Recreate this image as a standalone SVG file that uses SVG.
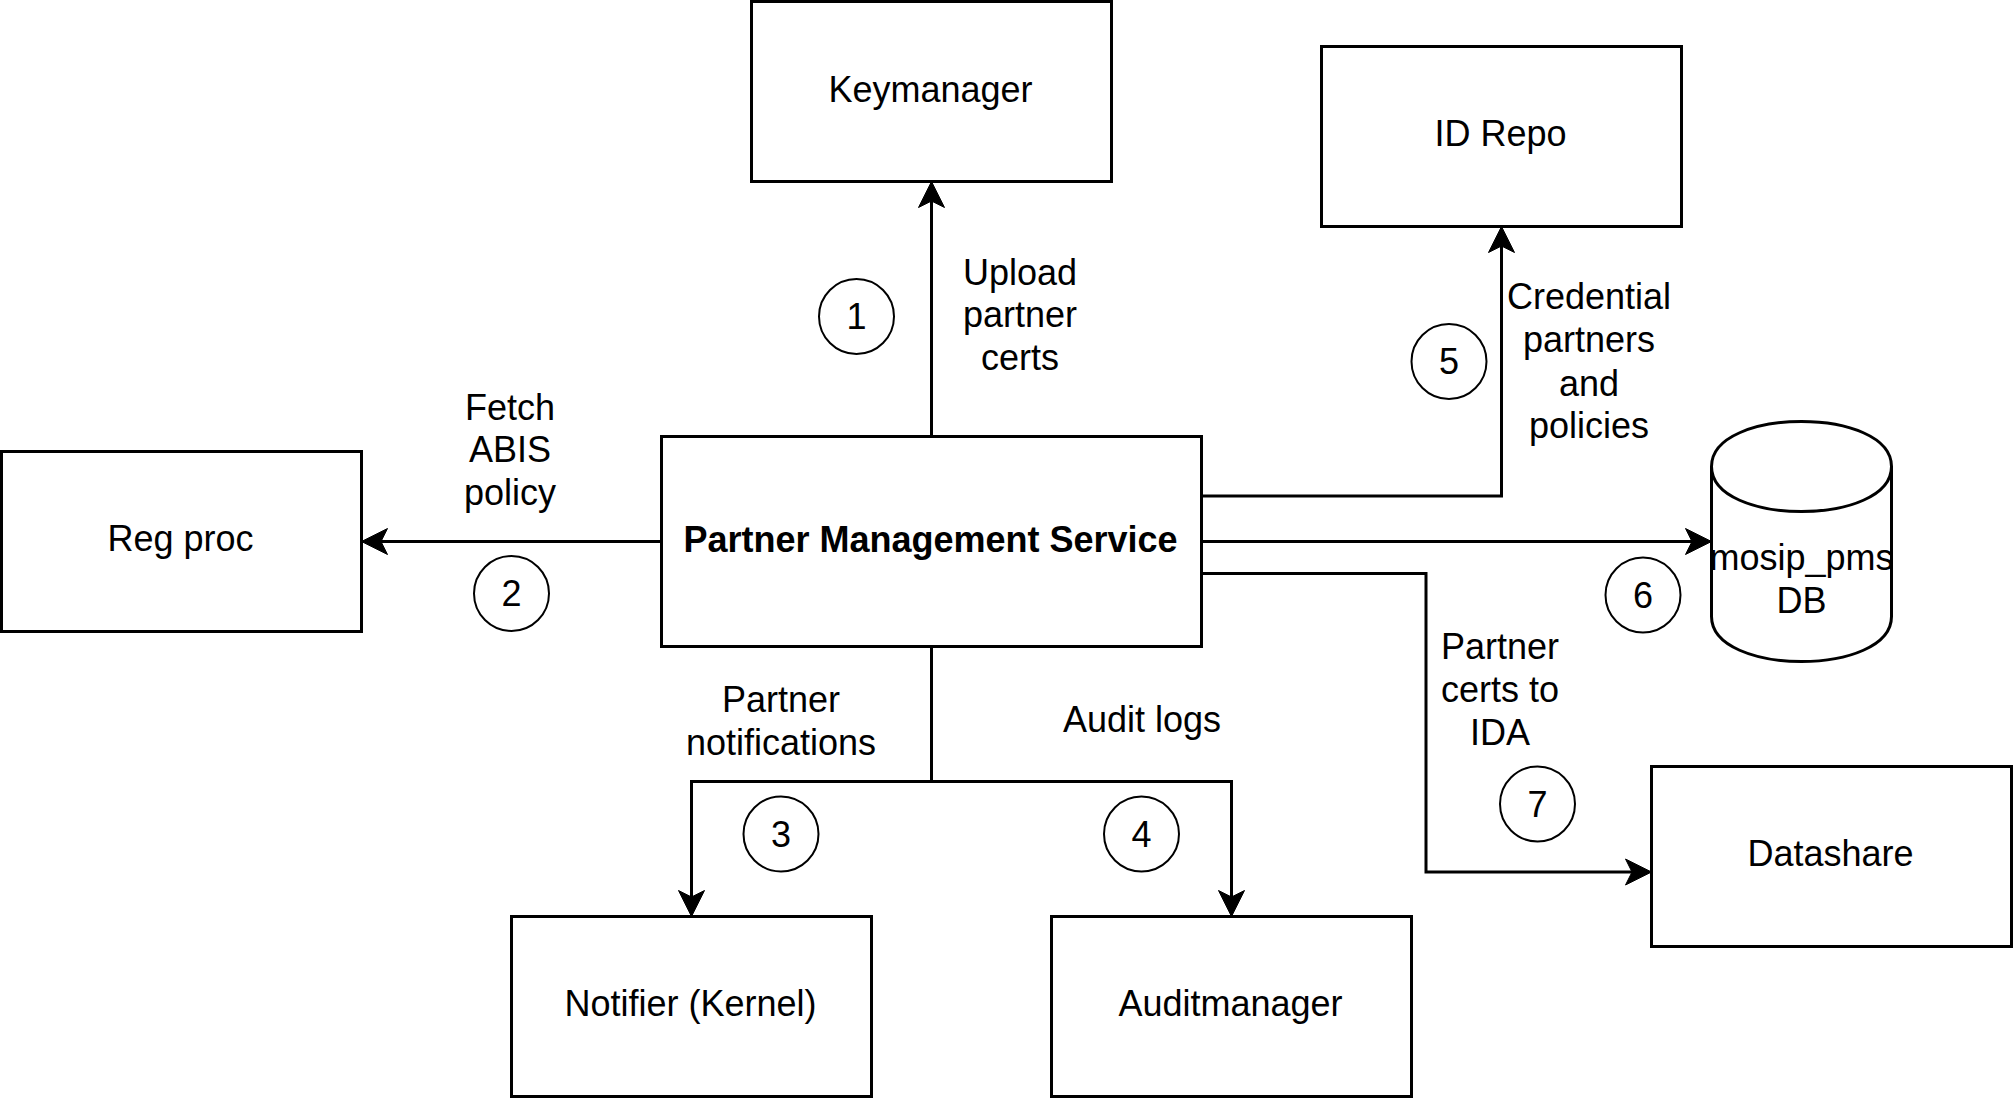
<svg xmlns="http://www.w3.org/2000/svg" width="2013" height="1098" viewBox="0 0 2013 1098">
<style>
  .box { fill: #ffffff; stroke: #000000; stroke-width: 3; }
  .num { fill: #ffffff; stroke: #000000; stroke-width: 2; }
  .edge { fill: none; stroke: #000000; stroke-width: 3; }
  text { font-family: "Liberation Sans", Arial, Helvetica, sans-serif; font-size: 36px; fill: #000000; text-anchor: middle; }
  .bold { font-weight: bold; }
</style>
<defs>
  <marker id="arrow" markerUnits="userSpaceOnUse" markerWidth="27" markerHeight="27" viewBox="0 0 27 27" refX="6.5" refY="13.5" orient="auto" overflow="visible">
    <path d="M26,13.5 L0,0.5 L6.5,13.5 L0,26.5 Z" fill="#000000" stroke="#000000" stroke-width="1"/>
  </marker>
</defs>
<rect width="2013" height="1098" fill="#ffffff"/>

<g id="connectors">
  <path class="edge" d="M931.5,436.5 L931.5,201" marker-end="url(#arrow)"/>
  <path class="edge" d="M661.5,541.5 L381,541.5" marker-end="url(#arrow)"/>
  <path class="edge" d="M1201.5,496 L1501.5,496 L1501.5,246" marker-end="url(#arrow)"/>
  <path class="edge" d="M1201.5,541.5 L1692,541.5" marker-end="url(#arrow)"/>
  <path class="edge" d="M1201.5,573.5 L1426,573.5 L1426,872 L1632,872" marker-end="url(#arrow)"/>
  <path class="edge" d="M931.5,646.5 L931.5,781.5 L691.5,781.5 L691.5,897" marker-end="url(#arrow)"/>
  <path class="edge" d="M931.5,781.5 L1231.5,781.5 L1231.5,897" marker-end="url(#arrow)"/>
</g>

<g id="labels">
  <text x="1020" y="284.5">Upload</text>
  <text x="1020" y="327">partner</text>
  <text x="1020" y="369.5">certs</text>
  <text x="510" y="419.5">Fetch</text>
  <text x="510" y="462">ABIS</text>
  <text x="510" y="504.5">policy</text>
  <text x="1589" y="309">Credential</text>
  <text x="1589" y="352">partners</text>
  <text x="1589" y="395.5">and</text>
  <text x="1589" y="438">policies</text>
  <text x="781" y="712">Partner</text>
  <text x="781" y="754.5">notifications</text>
  <text x="1142" y="732">Audit logs</text>
  <text x="1500" y="658.5">Partner</text>
  <text x="1500" y="701.5">certs to</text>
  <text x="1500" y="744.5">IDA</text>
</g>

<g id="node-keymanager">
  <rect class="box" x="751.5" y="1.5" width="360" height="180"/>
  <text x="930.5" y="102">Keymanager</text>
</g>
<g id="node-idrepo">
  <rect class="box" x="1321.5" y="46.5" width="360" height="180"/>
  <text x="1500.5" y="146">ID Repo</text>
</g>
<g id="node-regproc">
  <rect class="box" x="1.5" y="451.5" width="360" height="180"/>
  <text x="180.5" y="551">Reg proc</text>
</g>
<g id="node-pms">
  <rect class="box" x="661.5" y="436.5" width="540" height="210"/>
  <text class="bold" x="930.5" y="551.5">Partner Management Service</text>
</g>
<g id="node-db">
  <path class="box" d="M1711.5,466.5 C1711.5,406.5 1891.5,406.5 1891.5,466.5 L1891.5,616.5 C1891.5,676.5 1711.5,676.5 1711.5,616.5 Z"/>
  <path class="edge" d="M1711.5,466.5 C1711.5,526.5 1891.5,526.5 1891.5,466.5"/>
  <text x="1801.5" y="570">mosip_pms</text>
  <text x="1801.5" y="613">DB</text>
</g>
<g id="node-datashare">
  <rect class="box" x="1651.5" y="766.5" width="360" height="180"/>
  <text x="1830.5" y="866">Datashare</text>
</g>
<g id="node-notifier">
  <rect class="box" x="511.5" y="916.5" width="360" height="180"/>
  <text x="690.5" y="1015.5">Notifier (Kernel)</text>
</g>
<g id="node-auditmanager">
  <rect class="box" x="1051.5" y="916.5" width="360" height="180"/>
  <text x="1230.5" y="1015.5">Auditmanager</text>
</g>

<g id="step-1"><circle class="num" cx="856.5" cy="316.5" r="37.5"/><text x="856.5" y="329">1</text></g>
<g id="step-2"><circle class="num" cx="511.5" cy="593.5" r="37.5"/><text x="511.5" y="606">2</text></g>
<g id="step-3"><circle class="num" cx="781" cy="834" r="37.5"/><text x="781" y="846.5">3</text></g>
<g id="step-4"><circle class="num" cx="1141.5" cy="834" r="37.5"/><text x="1141.5" y="846.5">4</text></g>
<g id="step-5"><circle class="num" cx="1449" cy="361.5" r="37.5"/><text x="1449" y="374">5</text></g>
<g id="step-6"><circle class="num" cx="1643" cy="595" r="37.5"/><text x="1643" y="607.5">6</text></g>
<g id="step-7"><circle class="num" cx="1537.5" cy="804" r="37.5"/><text x="1537.5" y="816.5">7</text></g>
</svg>
